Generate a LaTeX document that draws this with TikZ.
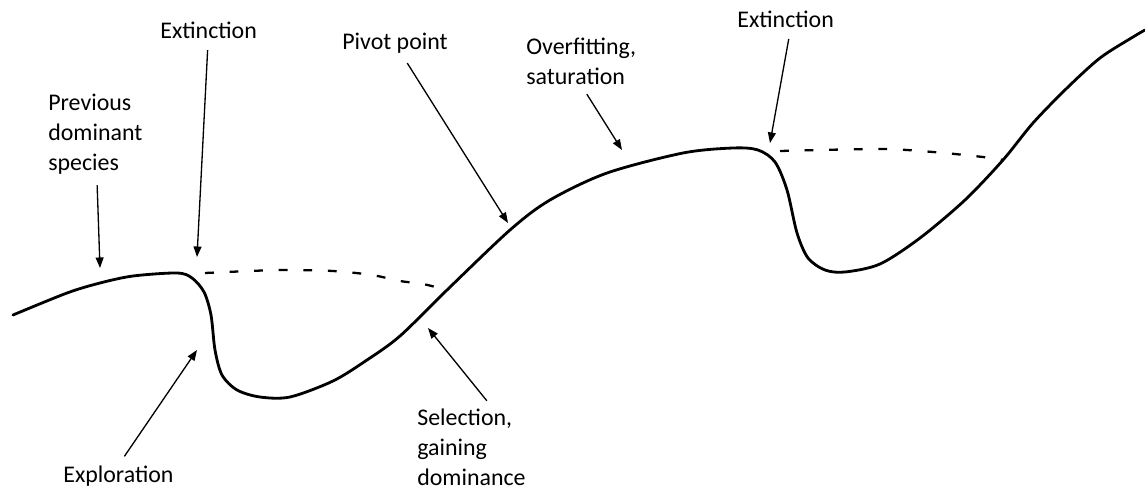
\documentclass[tikz,border=0pt]{standalone}
\usepackage{fontspec}
\setmainfont{Carlito}
\usepackage{tikz}
\usetikzlibrary{arrows.meta,positioning}
\tikzset{
  lbl/.style={inner sep=0pt,align=left,font=\fontsize{13.6}{17}\selectfont},
  pil/.style={line width=0.75pt,-{Triangle[length=6pt,width=4.5pt]},shorten <=6pt},
  land/.style={line width=1.6pt,line cap=round,line join=round},
  gap/.style={line width=1.3pt,dash pattern=on 5pt off 9pt}
}

\begin{document}
\begin{tikzpicture}[x=0.02cm,y=-0.02cm]
\useasboundingbox (0,0) rectangle (1145,493);
\draw[land] plot[smooth,tension=0.5] coordinates {(13,315) (67,293) (100,283) (133,276) (177,273) (192,278) (204,292) (211,315) (215,350) (222,375) (237,390) (260,397) (290,397) (333,381) (367,360) (400,336) (447,290) (510,230) (550,200) (607,173) (683,153) (733,148) (758,150) (775,162) (787,190) (797,233) (808,258) (825,270) (845,272) (880,264) (920,238) (965,200) (1003,160) (1033,123) (1067,88) (1100,58) (1133,37) (1145,30)};
\draw[gap] plot[smooth] coordinates {(205,273) (250,271) (283,270) (333,271) (372,275) (400,281) (423,284) (447,290)};
\draw[gap] plot[smooth] coordinates {(780,151) (880,149) (933,152) (983,157) (1003,160)};

\node[lbl,anchor=north west] (prev) at (48,94) {Previous\\dominant\\species};
\node[lbl,anchor=base west] (ext1) at (160,39) {Extinction};
\node[lbl,anchor=base west] (pivot) at (342,50) {Pivot point};
\node[lbl,anchor=north west] (over) at (526,38) {Overfitting,\\saturation};
\node[lbl,anchor=base west] (ext2) at (737,28) {Extinction};
\node[lbl,anchor=base west] (explor) at (63,482) {Exploration};
\node[lbl,anchor=north west] (sel) at (417,409) {Selection,\\gaining\\dominance};

\coordinate (tprev) at (100,268);
\coordinate (text1) at (197,257);
\coordinate (tpivot) at (508,223);
\coordinate (tover) at (622,150);
\coordinate (text2) at (770,143);
\coordinate (texplor) at (197,350);
\coordinate (tsel) at (428,328);

\draw[pil] (prev) -- (tprev);
\draw[pil] (ext1) -- (text1);
\draw[pil] (pivot) -- (tpivot);
\draw[pil] (over.south) -- (tover);
\draw[pil] ([xshift=0.1cm]ext2.south) -- (text2);
\draw[pil] (explor.north) -- (texplor);
\draw[pil] ([xshift=0.44cm]sel.north) -- (tsel);
\end{tikzpicture}
\end{document}
